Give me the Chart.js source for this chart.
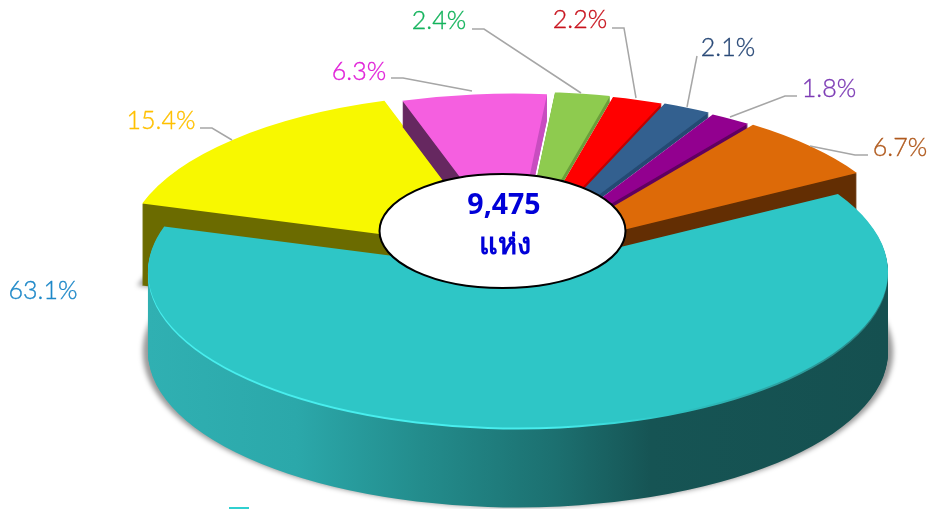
<!DOCTYPE html>
<html>
<head>
<meta charset="utf-8">
<style>
  html, body { margin: 0; padding: 0; background: #fff; }
  #wrap { width: 928px; height: 509px; }
</style>
<script src="https://cdn.jsdelivr.net/npm/chart.js@4"></script>
</head>
<body>
<div id="wrap"><canvas id="myChart"></canvas></div>
<script>
// values, clockwise starting from the yellow slice; teal last so it paints on top
const values = [15.4, 6.3, 2.4, 2.2, 2.1, 1.8, 6.7, 63.1];
const totalText = '9,475';
const unitText = 'แห่ง';

const topColors = ['#f8f800', '#f55fe0', '#8ecb4f', '#ff0000', '#33608f', '#92008f', '#dd6a08', '#2ec6c6'];
const wallLeft = ['#6b6b00', '#662860', '#6b9e3a', '#c00000', '#244a73', '#600060', '#632e03', null];
const wallRight = ['#6b6b00', '#c84dc0', '#6b9e3a', '#c00000', '#244a73', '#600060', '#632e03', null];
const labelColors = ['#ffc000', '#e020d8', '#14b35c', '#c8141e', '#2a4a78', '#7d3cb5', '#b05a1e', '#1e88c8'];

// per slice 3d look: how far each is pulled out of the pie, and wall height
const shiftX = [-22, -4, 4, 7, 10, 14, 19, 0];
const shiftY = [-23, -23, -25, -24, -24, -22, -21, 0];
const depth = [82, 26, 6, 6, 5, 7, 40, 80];

// label text position and leader line
const labelPos = [[161, 121], [359, 72], [439, 21], [580, 20], [728, 48], [829, 89], [900, 148], [43, 291]];
const leaders = [
  [[200, 128], [212, 128], [232, 140]],
  [[391, 78], [403, 78], [472, 91]],
  [[472, 29], [484, 29], [581, 93]],
  [[612, 28], [624, 28], [636, 98]],
  [[697, 56], [687, 107]],
  [[797, 96], [785, 96], [730, 117]],
  [[868, 155], [855, 155], [810, 146]],
  []
];

const pieX = 518;
const pieY = 272;
const squash = 0.42;
const pieRadius = 370;

const tealWallStops = [[0, '#30b0b2'], [0.2, '#2ba8aa'], [0.37, '#238c8c'], [0.55, '#1c7070'], [0.68, '#165454'], [1, '#155050']];

function drawSlice(ctx, arc, i, dy, fill, widen) {
  const old = arc.options;
  if (fill) {
    arc.options = { ...old, backgroundColor: fill, borderWidth: 0 };
  }
  ctx.save();
  ctx.translate(pieX + shiftX[i], pieY + shiftY[i] + dy);
  ctx.scale(widen || 1, squash);
  ctx.translate(-arc.x, -arc.y);
  arc.draw(ctx);
  ctx.restore();
  arc.options = old;
}

function wallFill(ctx, arc, i) {
  const g = ctx.createLinearGradient(arc.x - pieRadius, 0, arc.x + pieRadius, 0);
  if (wallLeft[i] === null) {
    tealWallStops.forEach(s => g.addColorStop(s[0], s[1]));
    return g;
  }
  // hard change in the middle, the two cut faces have different shades
  const midPoint = Math.min(0.999, Math.max(0.001, 0.5 + (490 - pieX - shiftX[i]) / (2 * pieRadius)));
  g.addColorStop(0, wallLeft[i]);
  g.addColorStop(midPoint, wallLeft[i]);
  g.addColorStop(midPoint, wallRight[i]);
  g.addColorStop(1, wallRight[i]);
  return g;
}

const pie3d = {
  id: 'pie3d',
  beforeDatasetsDraw(chart) {
    const ctx = chart.ctx;
    const arcs = chart.getDatasetMeta(0).data;
    arcs.forEach((arc, i) => {
      const fill = wallFill(ctx, arc, i);
      const isTeal = wallLeft[i] === null;
      if (isTeal || i === 0) {
        // soft shadow under the bottom of the wall
        ctx.save();
        ctx.filter = 'blur(2.5px)';
        drawSlice(ctx, arc, i, depth[i], 'rgba(0,0,0,0.4)', 1.014);
        ctx.restore();
      }
      for (let d = depth[i]; d >= 1; d--) {
        drawSlice(ctx, arc, i, d, fill);
      }
      if (isTeal) {
        // light rim on the front left edge
        const rim = ctx.createLinearGradient(arc.x - pieRadius, 0, arc.x + pieRadius, 0);
        rim.addColorStop(0, '#48eeee');
        rim.addColorStop(0.55, '#48eeee');
        rim.addColorStop(0.7, '#2ec6c6');
        rim.addColorStop(1, '#2a7f7f');
        drawSlice(ctx, arc, i, 2, rim);
      }
      drawSlice(ctx, arc, i, 0);
    });
    return false;
  },
  afterDraw(chart) {
    const ctx = chart.ctx;
    ctx.save();

    // white centre with the total
    ctx.beginPath();
    ctx.ellipse(502.5, 231, 123, 57, 0, 0, Math.PI * 2);
    ctx.fillStyle = '#fff';
    ctx.fill();
    ctx.lineWidth = 2;
    ctx.strokeStyle = '#000';
    ctx.stroke();

    ctx.textAlign = 'center';
    ctx.textBaseline = 'middle';
    ctx.fillStyle = '#0000d8';
    ctx.font = 'bold 28.5px "Noto Sans", "Liberation Sans", sans-serif';
    ctx.fillText(totalText, 504, 206);
    ctx.font = 'bold 29px "Noto Sans", "Liberation Sans", sans-serif';
    ctx.fillText(unitText, 505, 246);

    // leader lines
    ctx.strokeStyle = '#a6a6a6';
    ctx.lineWidth = 1.5;
    leaders.forEach(pts => {
      if (!pts.length) return;
      ctx.beginPath();
      pts.forEach((p, k) => (k ? ctx.lineTo(p[0], p[1]) : ctx.moveTo(p[0], p[1])));
      ctx.stroke();
    });

    // percent labels, light face thickened a little
    ctx.font = '300 25px Lato, sans-serif';
    ctx.lineWidth = 0.35;
    values.forEach((v, i) => {
      const text = v.toFixed(1) + '%';
      ctx.fillStyle = labelColors[i];
      ctx.strokeStyle = labelColors[i];
      ctx.fillText(text, labelPos[i][0], labelPos[i][1]);
      ctx.strokeText(text, labelPos[i][0], labelPos[i][1]);
    });

    // cut off legend key at the bottom edge
    ctx.fillStyle = '#30d0d0';
    ctx.fillRect(229, 507, 20, 2);
    ctx.restore();
  }
};

new Chart(document.querySelector('#myChart'), {
  type: 'pie',
  data: {
    labels: values.map(v => v.toFixed(1) + '%'),
    datasets: [{
      data: values,
      backgroundColor: topColors,
      borderWidth: 0
    }]
  },
  options: {
    responsive: true,
    maintainAspectRatio: false,
    animation: false,
    rotation: 287,
    radius: pieRadius,
    events: [],
    plugins: {
      legend: false,
      tooltip: { enabled: false }
    }
  },
  plugins: [pie3d]
});
</script>
</body>
</html>
